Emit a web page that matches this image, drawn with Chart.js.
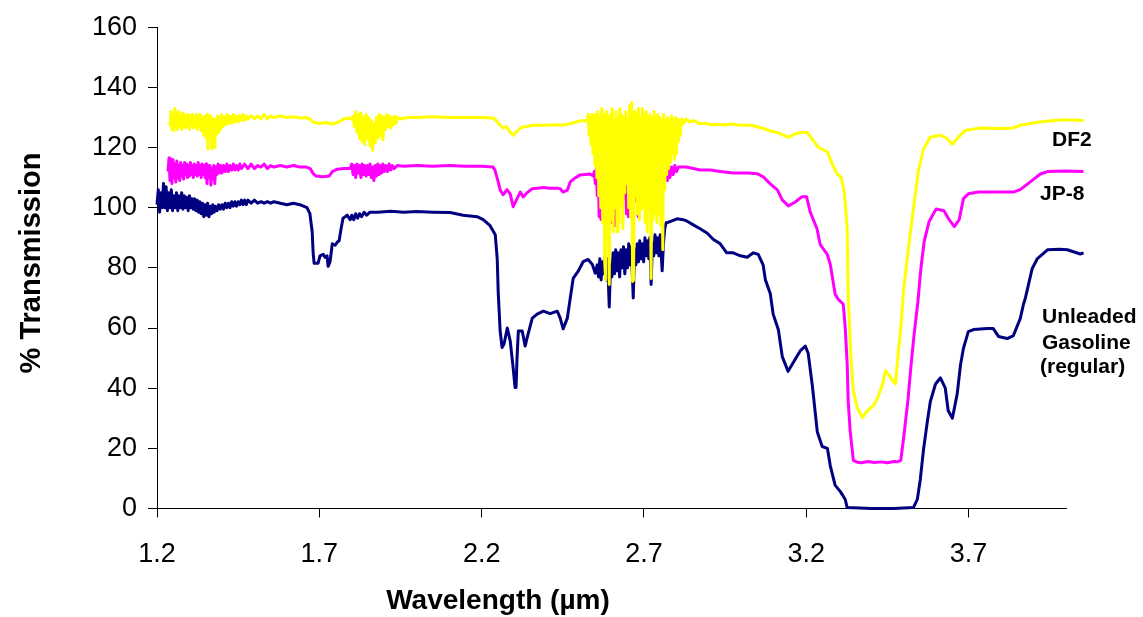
<!DOCTYPE html>
<html>
<head>
<meta charset="utf-8">
<title>% Transmission vs Wavelength</title>
<script src="https://cdn.jsdelivr.net/npm/chart.js@4.4.1/dist/chart.umd.min.js"></script>
<style>
  html, body { margin: 0; padding: 0; background: #fff; }
  canvas { display: block; }
</style>
</head>
<body>
<canvas id="spectraChart" width="1143" height="617"></canvas>
<script>
// [wavelength (µm), % transmission]
const df2 = [
  [1.240,127],[1.243,132],[1.246,126],[1.249,131],[1.252,125.5],[1.255,133],[1.258,127],[1.261,131.5],[1.264,126],[1.267,132],
  [1.270,127],[1.273,130.5],[1.276,126],[1.279,131.5],[1.282,127],[1.285,131],[1.288,126.5],[1.291,130.5],[1.294,127],[1.297,131],
  [1.300,126],[1.303,130.5],[1.306,127.5],[1.309,131],[1.312,126.5],[1.315,130],[1.318,127],[1.321,131],[1.324,126],[1.327,130.5],
  [1.330,127],[1.333,131],[1.336,125.5],[1.339,130],[1.342,127],[1.345,124],[1.348,130.5],[1.352,123],[1.355,131],[1.357,119.5],
  [1.360,130],[1.363,124],[1.366,130.5],[1.369,119.5],[1.372,129.5],[1.375,125],[1.378,120],[1.381,129.5],[1.384,124.5],[1.387,130.5],
  [1.390,125],[1.393,130],[1.396,126],[1.399,131],[1.402,127],[1.405,130],[1.410,127.5],[1.415,131],[1.420,128],[1.425,130.5],
  [1.430,128],[1.435,131],[1.440,128.5],[1.445,130.5],[1.450,128.5],[1.455,130.5],[1.460,129],[1.465,131],[1.470,129],[1.475,130.5],
  [1.480,129.5],[1.490,130.5],[1.500,129.5],[1.510,130.5],[1.520,129.5],[1.530,131],[1.540,129.5],[1.550,130.5],[1.560,130],[1.580,130.5],
  [1.600,130],[1.620,130.2],[1.640,129.8],[1.660,130],[1.670,129.5],[1.680,128.5],[1.700,128],[1.720,128.3],[1.740,127.8],[1.760,128.5],
  [1.775,129.5],[1.790,129.8],[1.800,129.5],
  [1.804,130.5],[1.808,127],[1.812,132],[1.816,125],[1.820,131],[1.824,123],[1.828,131.5],[1.832,122],[1.836,130],[1.840,121],
  [1.844,131],[1.848,123],[1.852,130],[1.856,120.5],[1.860,129],[1.864,119],[1.868,128],[1.872,121.5],[1.876,130],[1.880,123],
  [1.884,131],[1.888,124],[1.892,130.5],[1.896,122.5],[1.900,130],[1.904,126],[1.908,131],[1.912,127],[1.916,130.5],[1.920,126.5],
  [1.924,130],[1.928,127.5],[1.932,130.5],[1.936,128],[1.940,130],[1.950,129.5],[1.970,130],[2.000,130],[2.050,130.2],[2.100,130],
  [2.150,130],[2.200,130],[2.235,129.8],[2.245,129],[2.257,127.4],[2.266,126.5],[2.275,127],[2.285,125.5],[2.297,124.1],[2.310,125.5],
  [2.322,126.7],[2.340,127],[2.356,127.4],[2.380,127.4],[2.420,127.5],[2.460,127.6],[2.475,128],[2.490,128.5],[2.510,129],[2.525,128.8],
  [2.528,131],[2.531,124],[2.534,130],[2.537,121],[2.540,131],[2.543,118],[2.546,130.5],[2.549,114],[2.552,131],[2.555,110],
  [2.558,132],[2.561,104],[2.564,130],[2.567,100],[2.570,133],[2.573,95],[2.576,131],[2.579,82],[2.582,76],[2.585,132],
  [2.588,90],[2.591,130],[2.593,74.5],[2.596,131],[2.599,96],[2.602,133],[2.605,92],[2.608,129],[2.611,100],[2.614,132],
  [2.617,92],[2.620,130],[2.623,95],[2.626,133],[2.629,101],[2.632,131],[2.635,93],[2.638,130],[2.641,105],[2.644,132],
  [2.647,108],[2.650,129],[2.653,100],[2.656,134],[2.659,97],[2.662,135],[2.665,75.5],[2.668,76],[2.671,132],[2.674,104],
  [2.677,131],[2.680,98],[2.683,133],[2.686,96],[2.689,130],[2.692,99.5],[2.695,133],[2.698,100],[2.701,131],[2.704,95],
  [2.707,132],[2.710,92],[2.713,130],[2.716,99],[2.719,131],[2.722,76.5],[2.725,130],[2.728,96],[2.731,132],[2.734,98],
  [2.737,130],[2.740,95],[2.743,131],[2.746,98],[2.749,130],[2.752,94],[2.755,129],[2.758,86],[2.761,131],[2.764,106],
  [2.767,129],[2.770,111],[2.773,130],[2.776,113],[2.779,129],[2.782,115],[2.785,130.5],[2.788,118],[2.791,129],[2.794,116],
  [2.797,130],[2.800,118],[2.803,129.5],[2.806,122],[2.809,129],[2.812,124],[2.816,129.5],[2.822,128],[2.830,129.5],[2.840,128.5],
  [2.855,129],[2.870,128],[2.890,128],[2.910,127.6],[2.930,127.7],[2.950,127.5],[2.970,127.8],[2.990,127.5],[3.010,127.4],[3.030,127.4],
  [3.052,126.8],[3.067,126.4],[3.089,125.5],[3.111,125],[3.145,123.4],[3.165,124.5],[3.182,125],[3.203,125],[3.218,122.8],[3.237,120.1],
  [3.265,118.5],[3.280,114.5],[3.295,111.2],[3.307,110.2],[3.317,105.2],[3.326,93],[3.329,71.2],[3.338,49],[3.345,39.2],[3.357,33.5],
  [3.373,30.2],[3.388,32.5],[3.407,34.2],[3.420,36.8],[3.435,41.4],[3.444,45.8],[3.454,44.5],[3.466,42.5],[3.475,41.5],[3.480,48],
  [3.491,60],[3.500,73],[3.516,87.7],[3.530,99.6],[3.545,112],[3.561,119.5],[3.582,123.4],[3.613,124.1],[3.634,123],[3.650,121.1],
  [3.668,123.4],[3.690,125.7],[3.736,126.5],[3.790,126.3],[3.838,126.5],[3.859,127.4],[3.912,128.4],[3.961,129],[4.000,129.2],[4.054,129]
];

const jp8 = [
  [1.234,112],[1.237,116.5],[1.240,109],[1.243,115],[1.246,108],[1.249,116],[1.252,110],[1.255,114.5],[1.258,108.5],[1.261,115.5],
  [1.264,110],[1.267,114],[1.270,109],[1.273,115],[1.276,110.5],[1.279,114],[1.282,109.5],[1.285,115],[1.288,111],[1.291,114.5],
  [1.294,110],[1.297,114],[1.300,110.5],[1.303,115],[1.306,111],[1.309,114],[1.312,110],[1.315,114.5],[1.318,111],[1.321,114],
  [1.324,110.5],[1.327,115],[1.330,111],[1.333,114],[1.336,110],[1.339,114.5],[1.342,111],[1.345,114],[1.348,110],[1.351,114.5],
  [1.354,108],[1.357,113.5],[1.360,110],[1.363,114],[1.366,107.5],[1.369,113],[1.372,109.5],[1.375,114],[1.378,108],[1.381,113.5],
  [1.384,111],[1.388,114.5],[1.392,111.5],[1.396,114],[1.400,111.5],[1.405,114],[1.410,112],[1.415,114.5],[1.420,112],[1.425,114],
  [1.430,112.5],[1.435,114.5],[1.440,112.5],[1.445,114],[1.450,112.5],[1.455,114.5],[1.460,113],[1.470,114.5],[1.480,113],[1.490,114.5],
  [1.500,113],[1.510,114],[1.520,113.5],[1.530,114.5],[1.540,113],[1.550,114],[1.560,113.5],[1.580,114],[1.600,113.5],[1.620,114],
  [1.640,113.5],[1.660,113.5],[1.672,113],[1.680,111.5],[1.690,110.5],[1.710,110.3],[1.730,110.5],[1.740,112],[1.755,112.8],[1.775,113],
  [1.795,113],
  [1.800,114.5],[1.804,111],[1.808,114],[1.812,110],[1.816,114.5],[1.820,111.5],[1.824,114],[1.828,110],[1.832,114.5],[1.836,111],
  [1.840,114],[1.844,110.5],[1.848,114],[1.852,111],[1.856,114.5],[1.860,110],[1.864,113.5],[1.868,109],[1.872,114],[1.876,110.5],
  [1.880,114.5],[1.884,111],[1.888,114],[1.892,111.5],[1.896,114.5],[1.900,112],[1.905,114],[1.910,112],[1.915,114.5],[1.920,112.5],
  [1.925,114],[1.930,113],[1.940,114],[1.960,113.8],[2.000,114],[2.050,113.8],[2.100,114],[2.150,113.8],[2.200,113.8],[2.235,113.5],
  [2.241,112.5],[2.251,108.6],[2.257,105.9],[2.266,104.3],[2.278,106],[2.288,104.6],[2.297,100.3],[2.309,103],[2.319,105.2],[2.328,103.6],
  [2.340,105],[2.356,106.3],[2.371,106.5],[2.390,106.7],[2.410,106.5],[2.433,106.5],[2.442,106.3],[2.451,105.2],[2.464,105.8],[2.473,108.6],
  [2.488,109.9],[2.503,110.9],[2.534,111.2],[2.544,110.5],
  [2.547,112],[2.550,108],[2.553,113],[2.556,104],[2.559,112.5],[2.562,97],[2.565,113],[2.568,96],[2.571,112],[2.574,100],
  [2.577,113.5],[2.580,98],[2.583,112],[2.586,102],[2.589,113],[2.592,97],[2.595,112.5],[2.598,95],[2.601,113],[2.604,99],
  [2.607,112],[2.610,94],[2.613,113],[2.616,96],[2.619,112.5],[2.622,104],[2.625,113],[2.628,106],[2.631,112],[2.634,105],
  [2.637,113],[2.640,103],[2.643,112.5],[2.646,98],[2.649,113],[2.652,97],[2.655,112],[2.658,101],[2.661,113],[2.664,99],
  [2.667,112.5],[2.670,103],[2.673,113],[2.676,102],[2.679,112],[2.682,97],[2.685,113],[2.688,101],[2.691,112.5],[2.694,104],
  [2.697,113],[2.700,103],[2.703,112],[2.706,105],[2.709,113],[2.712,104],[2.715,112.5],[2.718,106],[2.721,113],[2.724,104],
  [2.727,112],[2.730,107],[2.733,113],[2.736,106],[2.739,112],[2.742,108],[2.745,113.5],[2.748,107],[2.751,112.5],[2.754,109],
  [2.757,113],[2.760,108],[2.763,113.5],[2.766,110],[2.769,113],[2.772,109],[2.775,114],[2.780,110],[2.785,113.5],[2.790,111],
  [2.795,114],[2.800,112],[2.806,113.5],[2.812,113.5],[2.830,113.5],[2.852,113],[2.873,112.5],[2.904,112.5],[2.935,112],[2.975,111.5],
  [3.020,111.5],[3.049,111.3],[3.068,110.2],[3.089,107.9],[3.111,105.9],[3.126,102.6],[3.145,100.6],[3.166,101.9],[3.186,103.6],[3.201,103.6],
  [3.212,98.6],[3.233,93],[3.243,87.7],[3.265,84.4],[3.274,81.1],[3.289,71.2],[3.298,69.6],[3.314,67.9],[3.320,60],[3.326,48.1],
  [3.329,35.9],[3.335,26],[3.345,16],[3.357,15.4],[3.370,15.2],[3.390,15.6],[3.410,15.3],[3.430,15.5],[3.450,15.2],[3.470,15.6],
  [3.480,15.5],[3.491,16],[3.500,23.6],[3.513,35.9],[3.522,46.8],[3.532,57.8],[3.544,68.9],[3.553,79.8],[3.563,88.7],[3.578,95.3],
  [3.600,99.6],[3.624,99],[3.640,96],[3.656,93.7],[3.671,96],[3.684,103],[3.699,104.6],[3.730,105.2],[3.770,105.2],[3.810,105.2],
  [3.838,105.2],[3.859,106],[3.890,108.6],[3.921,111.2],[3.943,112],[4.000,112.2],[4.054,112]
];

const gasoline = [
  [1.200,101],[1.204,106],[1.208,98.5],[1.212,105],[1.216,100],[1.220,108],[1.224,100],[1.228,107],[1.232,99],[1.236,105],
  [1.240,100],[1.244,106],[1.248,99],[1.252,104],[1.256,100],[1.260,105],[1.264,99],[1.268,104],[1.272,100],[1.276,105],
  [1.280,99.5],[1.284,104],[1.288,100],[1.292,103.5],[1.296,99],[1.300,104],[1.304,100],[1.308,103],[1.312,99.5],[1.316,103],
  [1.320,99],[1.324,102.5],[1.328,98.5],[1.332,102],[1.336,98],[1.340,101.5],[1.344,97],[1.348,101],[1.352,97.5],[1.356,101.5],
  [1.360,97],[1.364,100.5],[1.368,98],[1.372,101],[1.376,98.5],[1.380,100.5],[1.385,99],[1.390,101],[1.395,99.5],[1.400,101],
  [1.405,99.5],[1.410,101.5],[1.415,100],[1.420,101.5],[1.425,100],[1.430,102],[1.435,100.5],[1.440,102],[1.445,100.5],[1.450,102],
  [1.455,101],[1.460,102.5],[1.465,101],[1.470,102.5],[1.475,101],[1.480,102.5],[1.490,101.5],[1.500,102.5],[1.510,101.5],[1.520,102],
  [1.530,101.5],[1.540,102],[1.550,101.5],[1.560,102],[1.580,101.5],[1.600,101],[1.620,101.5],[1.640,101],[1.662,100],[1.671,98],
  [1.678,92],[1.681,85],[1.684,81.5],[1.696,81.5],[1.702,84],[1.712,84.5],[1.718,83.5],[1.724,84],[1.727,80.5],[1.733,82],
  [1.740,88],[1.749,87.5],[1.755,88.5],[1.761,89],[1.767,93],[1.773,96.5],[1.786,97.5],[1.795,96],[1.800,97.5],[1.806,96],
  [1.812,98],[1.818,96.5],[1.824,98],[1.830,97],[1.838,98.5],[1.846,97.5],[1.856,98.5],[1.880,98.5],[1.920,98.8],[1.960,98.5],
  [2.000,98.7],[2.050,98.5],[2.103,98.4],[2.143,97.5],[2.186,97],[2.205,96],[2.226,94],[2.242,91],[2.248,83],[2.251,72],
  [2.257,59],[2.263,53.5],[2.269,54.7],[2.279,60],[2.288,55.7],[2.297,46.8],[2.303,40.2],[2.306,40.2],[2.309,50],[2.313,59],
  [2.325,59],[2.334,54],[2.340,56.7],[2.356,63.3],[2.371,64.6],[2.390,65.6],[2.411,64.8],[2.433,65.6],[2.442,63.3],[2.451,59.7],
  [2.464,63.3],[2.473,70],[2.482,76.5],[2.497,78.8],[2.513,82.1],[2.528,82.8],[2.541,81.1],[2.550,78.2],
  [2.556,81],[2.560,77],[2.564,83],[2.568,76],[2.572,82],[2.576,78],[2.580,84],[2.584,76],[2.588,83],[2.593,67],
  [2.597,81],[2.601,77],[2.605,85],[2.609,78],[2.613,86],[2.617,79],[2.621,85],[2.625,77],[2.629,86],[2.633,80],
  [2.637,87],[2.641,78],[2.645,86],[2.649,80],[2.653,88],[2.657,81],[2.661,87],[2.667,70],[2.671,86],[2.675,81],
  [2.679,88],[2.683,82],[2.687,89],[2.691,83],[2.695,88],[2.699,82],[2.703,90],[2.707,84],[2.711,89],[2.715,83],
  [2.718,90],[2.722,74.5],[2.726,88],[2.730,84],[2.734,91],[2.738,85],[2.742,90],[2.746,84],[2.750,91],[2.756,79],
  [2.760,88],[2.764,93],[2.768,95],[2.772,95],[2.802,96.3],[2.821,96],[2.833,95.5],[2.852,94.3],[2.873,93],[2.895,91.5],
  [2.913,89.5],[2.935,88],[2.955,85],[2.975,85],[2.997,84],[3.018,83.5],[3.037,85],[3.052,84.5],[3.067,81],[3.074,76],
  [3.089,71.5],[3.098,64.6],[3.114,59.4],[3.126,50.5],[3.144,45.6],[3.160,48.5],[3.182,52.5],[3.197,54],[3.206,51.5],[3.219,40.5],
  [3.234,25.4],[3.249,20.6],[3.265,20],[3.274,14.2],[3.289,7.7],[3.305,5.6],[3.320,3],[3.326,0.3],[3.400,0],[3.470,0],
  [3.530,0.3],[3.542,3],[3.551,9.5],[3.561,19.5],[3.573,29],[3.582,35.5],[3.598,41.4],[3.613,43.4],[3.628,40.1],[3.637,32.6],
  [3.650,30],[3.665,38.2],[3.675,47.7],[3.684,53.2],[3.699,58.8],[3.715,59.5],[3.758,59.8],[3.776,59.8],[3.792,57.2],[3.819,56.5],
  [3.838,57.5],[3.859,63.1],[3.869,67.9],[3.875,70],[3.896,79.8],[3.912,83.1],[3.943,86],[3.980,86.2],[4.004,86],[4.044,84.6],
  [4.054,85]
];

const xTickValues = [1.2, 1.7, 2.2, 2.7, 3.2, 3.7];
const xAxisEnd = 4.0;
const yTickStep = 20;
const seriesLabels = [['DF2'], ['JP-8'], ['Unleaded', 'Gasoline', '(regular)']];

const FONT = '"Liberation Sans", Arial, Helvetica, sans-serif';
const toPoints = arr => arr.map(p => ({ x: p[0], y: p[1] }));

// axis titles and the series names sit as free text, like in the original sheet
const textLabels = {
  id: 'textLabels',
  afterDraw(chart) {
    const ctx = chart.ctx;
    ctx.save();
    ctx.fillStyle = '#000';
    ctx.textBaseline = 'alphabetic';

    ctx.font = 'bold 28px ' + FONT;
    ctx.textAlign = 'center';
    ctx.fillText('Wavelength (\u00b5m)', 498, 609);

    ctx.save();
    ctx.font = 'bold 29px ' + FONT;
    ctx.translate(40, 263);
    ctx.rotate(-Math.PI / 2);
    ctx.fillText('% Transmission', 0, 0);
    ctx.restore();

    ctx.font = 'bold 21px ' + FONT;
    ctx.textAlign = 'left';
    ctx.fillText(seriesLabels[0][0], 1052, 146);
    ctx.fillText(seriesLabels[1][0], 1040, 200);
    const lines = seriesLabels[2];
    ctx.fillText(lines[0], 1042, 323);
    ctx.fillText(lines[1], 1042, 349);
    ctx.fillText(lines[2], 1040, 373);
    ctx.restore();
  }
};

const ctx = document.getElementById('spectraChart').getContext('2d');
new Chart(ctx, {
  type: 'line',
  data: {
    datasets: [
      { label: 'DF2', data: toPoints(df2), borderColor: '#FFFF00', clip: false },
      { label: 'JP-8', data: toPoints(jp8), borderColor: '#FF00FF', clip: false },
      { label: 'Unleaded Gasoline (regular)', data: toPoints(gasoline), borderColor: '#000080', clip: false }
    ]
  },
  options: {
    responsive: false,
    animation: false,
    devicePixelRatio: 1,
    layout: { padding: { top: 24, right: 77, left: 0, bottom: 0 } },
    elements: {
      point: { radius: 0 },
      line: { tension: 0, borderWidth: 3, fill: false, borderJoinStyle: 'round' }
    },
    plugins: {
      legend: { display: false },
      tooltip: { enabled: false }
    },
    scales: {
      x: {
        type: 'linear',
        min: 1.2,
        // the spectra run a little past the end of the axis line, so the
        // end is set here instead of as a hard max (which would drop points)
        afterDataLimits: s => { s.max = xAxisEnd; },
        afterBuildTicks: s => { s.ticks = xTickValues.map(v => ({ value: v })); },
        afterFit: s => { s.height = 108.5; },
        grid: { drawOnChartArea: false, drawTicks: true, tickLength: 9, color: '#000' },
        border: { display: true, color: '#000', width: 1 },
        ticks: {
          color: '#000',
          font: { family: FONT, size: 27 },
          padding: 21,
          maxRotation: 0,
          callback: v => v.toFixed(1)
        }
      },
      y: {
        min: 0,
        max: 160,
        afterFit: s => { s.width = 157; },
        grid: { drawOnChartArea: false, drawTicks: true, tickLength: 9, color: '#000' },
        border: { display: true, color: '#000', width: 1 },
        ticks: {
          stepSize: yTickStep,
          color: '#000',
          font: { family: FONT, size: 27 },
          padding: 11
        }
      }
    }
  },
  plugins: [textLabels]
});
</script>
</body>
</html>
